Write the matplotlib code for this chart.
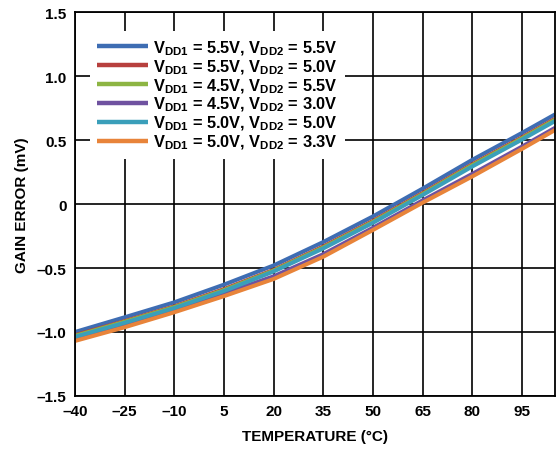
import numpy as np
import matplotlib.pyplot as plt

plt.rcParams['font.family'] = ['Liberation Sans', 'DejaVu Sans']
plt.rcParams['font.weight'] = 'bold'
plt.rcParams['mathtext.fontset'] = 'custom'
plt.rcParams['mathtext.rm'] = 'Liberation Sans:bold'
plt.rcParams['mathtext.bf'] = 'Liberation Sans:bold'

# gain error vs temperature
temps = [-40, -25, -10, 5, 20, 35, 50, 65, 80, 95, 105]

err_55_55 = [-1.00, -0.885, -0.768, -0.630, -0.480, -0.297, -0.097, 0.120, 0.345, 0.555, 0.700]
err_55_50 = [-1.025, -0.915, -0.800, -0.665, -0.515, -0.332, -0.132, 0.085, 0.310, 0.520, 0.665]
err_45_55 = [-1.030, -0.920, -0.805, -0.672, -0.520, -0.339, -0.139, 0.078, 0.303, 0.513, 0.658]
err_45_30 = [-1.055, -0.947, -0.830, -0.700, -0.565, -0.392, -0.186, 0.028, 0.235, 0.448, 0.595]
err_50_50 = [-1.038, -0.928, -0.813, -0.680, -0.527, -0.347, -0.147, 0.070, 0.293, 0.503, 0.648]
err_50_33 = [-1.070, -0.963, -0.846, -0.720, -0.586, -0.412, -0.203, 0.010, 0.215, 0.430, 0.578]

series = [
    (err_55_55, '5.5V', '5.5V', '#3e6db3'),
    (err_55_50, '5.5V', '5.0V', '#b7403e'),
    (err_45_55, '4.5V', '5.5V', '#8db543'),
    (err_45_30, '4.5V', '3.0V', '#6f52a0'),
    (err_50_50, '5.0V', '5.0V', '#3a9fba'),
    (err_50_33, '5.0V', '3.3V', '#e8843a'),
]

xticks = [-40, -25, -10, 5, 20, 35, 50, 65, 80, 95]
yticks = [-1.5, -1.0, -0.5, 0, 0.5, 1.0, 1.5]
ylabels = ['–1.5', '–1.0', '–0.5', '0', '0.5', '1.0', '1.5']

fig = plt.figure(figsize=(5.58, 4.52), dpi=100)
ax = fig.add_axes([0.1344, 0.1217, 0.8602, 0.8495])

for vals, v1, v2, col in series:
    lab = r'V$_{\mathbf{DD1}}$ = ' + v1 + r', V$_{\mathbf{DD2}}$ = ' + v2
    ax.plot(temps, vals, color=col, lw=2.9, label=lab, solid_capstyle='butt')

ax.set_xlim(-40, 105)
ax.set_ylim(-1.5, 1.5)
ax.set_xticks(xticks)
ax.set_xticklabels([str(t).replace('-', '–') for t in xticks])
ax.set_yticks(yticks)
ax.set_yticklabels(ylabels)
ax.grid(True, color='black', lw=1.2)
ax.set_axisbelow(True)
ax.tick_params(length=0, labelsize=11, pad=6)
for s in ax.spines.values():
    s.set_linewidth(1.3)

ax.set_xlabel('TEMPERATURE (°C)', fontsize=11, fontweight='bold', labelpad=8)
ax.set_ylabel('GAIN ERROR (mV)', fontsize=11, fontweight='bold', labelpad=6)

leg = ax.legend(loc='upper left', bbox_to_anchor=(0.031, 0.9505), borderaxespad=0,
                fontsize=11.8, handlelength=3.1, handletextpad=0.3, labelspacing=0.03,
                borderpad=0.45, frameon=True, fancybox=False, framealpha=1)
leg.get_frame().set_edgecolor('none')
leg.get_frame().set_facecolor('white')
for ln in leg.get_lines():
    ln.set_linewidth(3.2)

fig.savefig('out.png', dpi=100)
